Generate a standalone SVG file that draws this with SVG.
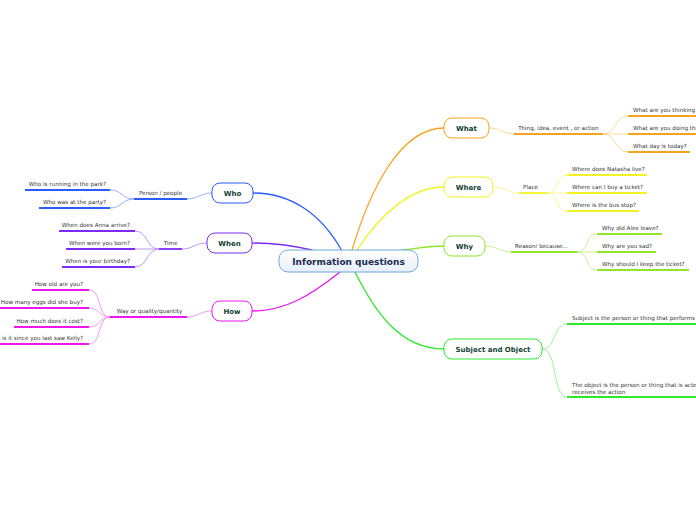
<svg xmlns="http://www.w3.org/2000/svg" width="696" height="520" viewBox="0 0 696 520">
<defs>
<linearGradient id="cg" x1="0" y1="0" x2="0" y2="1">
<stop offset="0" stop-color="#ffffff"/>
<stop offset="1" stop-color="#e6f0fa"/>
</linearGradient>
</defs>
<style>
.nt{font-family:"DejaVu Sans",Verdana,sans-serif;font-size:7px;font-weight:bold;fill:#123f33;text-anchor:middle}
.lt{font-family:"DejaVu Sans",Verdana,sans-serif;font-size:5.6px;fill:#333333}
.lm{text-anchor:middle}
.le{text-anchor:end}
.nb{fill:#ffffff;stroke-width:1}
.c{fill:none;stroke-width:1.3;stroke-linecap:round}
.s{fill:none;stroke-width:0.9}
.u{fill:none;stroke-width:1.8}
</style>
<rect width="696" height="520" fill="#ffffff"/>
<g id="connectors">
<path class="c" stroke="#2a5cff" d="M342,251 C322,215 292,193 253,193"/>
<path class="c" stroke="#7a2cf5" d="M312,250 C290,245 275,243 252,243"/>
<path class="c" stroke="#ee16ee" d="M340,272 C310,296 285,311 252,311"/>
<path class="c" stroke="#f7a320" d="M352,250 C370,190 400,128 444,128"/>
<path class="c" stroke="#f2f224" d="M357,250 C380,215 410,187 444,187"/>
<path class="c" stroke="#8ee62a" d="M402,250 C420,248 430,246 444,246"/>
<path class="c" stroke="#2ee82e" d="M355,272 C375,312 400,349 444,349"/>
<path class="s" stroke="#8ea8ff" d="M212,193 C200,193 198,199 187,199"/>
<path class="s" stroke="#8ea8ff" d="M134,199 C122,199 122,190 110,190"/>
<path class="s" stroke="#8ea8ff" d="M134,199 C122,199 122,208 110,208"/>
<path class="s" stroke="#b48cff" d="M207,243 C195,243 193,249 182,249"/>
<path class="s" stroke="#b48cff" d="M159,249 C146,249 148,231 135,231"/>
<path class="s" stroke="#b48cff" d="M159,249 L135,249"/>
<path class="s" stroke="#b48cff" d="M159,249 C146,249 148,267 135,267"/>
<path class="s" stroke="#f58cf5" d="M212,311 C200,311 198,317 187,317"/>
<path class="s" stroke="#f58cf5" d="M110,317 C97,317 102,290 89,290"/>
<path class="s" stroke="#f58cf5" d="M110,317 C99,317 100,308 89,308"/>
<path class="s" stroke="#f58cf5" d="M110,317 C99,317 100,327 89,327"/>
<path class="s" stroke="#f58cf5" d="M110,317 C97,317 102,344 89,344"/>
<path class="s" stroke="#fbd48c" d="M489,128 C501,128 503,134 514,134"/>
<path class="s" stroke="#fbd48c" d="M603,134 C616,134 615,116 628,116"/>
<path class="s" stroke="#fbd48c" d="M603,134 L628,134"/>
<path class="s" stroke="#fbd48c" d="M603,134 C616,134 615,152 628,152"/>
<path class="s" stroke="#f7f78a" d="M493,187 C505,187 507,193 519,193"/>
<path class="s" stroke="#f7f78a" d="M547,193 C560,193 554,175 567,175"/>
<path class="s" stroke="#f7f78a" d="M547,193 L567,193"/>
<path class="s" stroke="#f7f78a" d="M547,193 C560,193 554,211 567,211"/>
<path class="s" stroke="#c2f086" d="M485,246 C498,246 499,252 511,252"/>
<path class="s" stroke="#c2f086" d="M577,252 C590,252 584,234 597,234"/>
<path class="s" stroke="#c2f086" d="M577,252 L597,252"/>
<path class="s" stroke="#c2f086" d="M577,252 C590,252 584,270 597,270"/>
<path class="s" stroke="#92f092" d="M542,349 C556,349 553,324 567,324"/>
<path class="s" stroke="#92f092" d="M542,349 C558,349 552,397 567,397"/>
</g>
<g id="center">
<rect x="279" y="250" width="139" height="22" rx="9" fill="url(#cg)" stroke="#6fa8dc" stroke-width="1"/>
<text x="348.5" y="264.5" class="nt" style="font-size:9px;fill:#1c2b52">Information questions</text>
</g>
<g id="who">
<rect class="nb" x="212" y="183" width="41" height="20" rx="8" stroke="#2a5cff"/>
<text class="nt" x="232.5" y="195.5">Who</text>
<line class="u" stroke="#2a5cff" x1="134" y1="199" x2="187" y2="199"/>
<text class="lt lm" x="160.5" y="195">Person / people</text>
<line class="u" stroke="#2a5cff" x1="25" y1="190" x2="110" y2="190"/>
<text class="lt le" x="106" y="186">Who is running in the park?</text>
<line class="u" stroke="#2a5cff" x1="39" y1="208" x2="110" y2="208"/>
<text class="lt le" x="106" y="204">Who was at the party?</text>
</g>
<g id="when">
<rect class="nb" x="207" y="233" width="45" height="20" rx="8" stroke="#7a2cf5"/>
<text class="nt" x="229.5" y="245.5">When</text>
<line class="u" stroke="#7a2cf5" x1="159" y1="249" x2="182" y2="249"/>
<text class="lt lm" x="170.5" y="245">Time</text>
<line class="u" stroke="#7a2cf5" x1="59" y1="231" x2="135" y2="231"/>
<text class="lt le" x="130" y="227">When does Anna arrive?</text>
<line class="u" stroke="#7a2cf5" x1="66" y1="249" x2="135" y2="249"/>
<text class="lt le" x="130" y="245">When were you born?</text>
<line class="u" stroke="#7a2cf5" x1="62" y1="267" x2="135" y2="267"/>
<text class="lt le" x="130" y="263">When is your birthday?</text>
</g>
<g id="how">
<rect class="nb" x="212" y="301" width="40" height="20" rx="8" stroke="#ee16ee"/>
<text class="nt" x="232" y="313.5">How</text>
<line class="u" stroke="#ee16ee" x1="110" y1="317" x2="187" y2="317"/>
<text class="lt lm" x="149.5" y="313">Way or quality/quantity</text>
<line class="u" stroke="#ee16ee" x1="32" y1="290" x2="89" y2="290"/>
<text class="lt le" x="83" y="286">How old are you?</text>
<line class="u" stroke="#ee16ee" x1="0" y1="308" x2="89" y2="308"/>
<text class="lt le" x="83" y="304">How many eggs did she buy?</text>
<line class="u" stroke="#ee16ee" x1="14" y1="327" x2="89" y2="327"/>
<text class="lt le" x="83" y="323">How much does it cost?</text>
<line class="u" stroke="#ee16ee" x1="0" y1="344" x2="89" y2="344"/>
<text class="lt le" x="83" y="340">How long is it since you last saw Kelly?</text>
</g>
<g id="what">
<rect class="nb" x="444" y="118" width="45" height="20" rx="8" stroke="#f7a320"/>
<text class="nt" x="466.5" y="130.5">What</text>
<line class="u" stroke="#f7a320" x1="514" y1="134" x2="603" y2="134"/>
<text class="lt lm" x="558.5" y="130">Thing, idea, event , or action</text>
<line class="u" stroke="#f7a320" x1="628" y1="116" x2="700" y2="116"/>
<text class="lt" x="633" y="112">What are you thinking about?</text>
<line class="u" stroke="#f7a320" x1="628" y1="134" x2="700" y2="134"/>
<text class="lt" x="633" y="130">What are you doing this weekend?</text>
<line class="u" stroke="#f7a320" x1="628" y1="152" x2="690" y2="152"/>
<text class="lt" x="633" y="148">What day is today?</text>
</g>
<g id="where">
<rect class="nb" x="444" y="177" width="49" height="20" rx="8" stroke="#f2f224"/>
<text class="nt" x="468.5" y="189.5">Where</text>
<line class="u" stroke="#f2f224" x1="519" y1="193" x2="547" y2="193"/>
<text class="lt lm" x="530.5" y="189">Place</text>
<line class="u" stroke="#f2f224" x1="567" y1="175" x2="647" y2="175"/>
<text class="lt" x="572" y="171">Where does Natasha live?</text>
<line class="u" stroke="#f2f224" x1="567" y1="193" x2="647" y2="193"/>
<text class="lt" x="572" y="189">Where can I buy a ticket?</text>
<line class="u" stroke="#f2f224" x1="567" y1="211" x2="639" y2="211"/>
<text class="lt" x="572" y="207">Where is the bus stop?</text>
</g>
<g id="why">
<rect class="nb" x="444" y="236" width="41" height="20" rx="8" stroke="#8ee62a"/>
<text class="nt" x="464.5" y="248.5">Why</text>
<line class="u" stroke="#8ee62a" x1="511" y1="252" x2="577" y2="252"/>
<text class="lt lm" x="541.5" y="248">Reason/ because...</text>
<line class="u" stroke="#8ee62a" x1="597" y1="234" x2="662" y2="234"/>
<text class="lt" x="602" y="230">Why did Alex leave?</text>
<line class="u" stroke="#8ee62a" x1="597" y1="252" x2="656" y2="252"/>
<text class="lt" x="602" y="248">Why are you sad?</text>
<line class="u" stroke="#8ee62a" x1="597" y1="270" x2="689" y2="270"/>
<text class="lt" x="602" y="266">Why should I keep the ticket?</text>
</g>
<g id="subject">
<rect class="nb" x="444" y="339" width="98" height="20" rx="8" stroke="#2ee82e"/>
<text class="nt" x="493" y="351.5">Subject and Object</text>
<line class="u" stroke="#2ee82e" x1="567" y1="324" x2="700" y2="324"/>
<text class="lt" x="572" y="320">Subject is the person or thing that performs the action</text>
<line class="u" stroke="#2ee82e" x1="567" y1="397" x2="700" y2="397"/>
<text class="lt" x="572" y="387">The object is the person or thing that is acted upon or</text>
<text class="lt" x="572" y="394">receives the action</text>
</g>
</svg>
